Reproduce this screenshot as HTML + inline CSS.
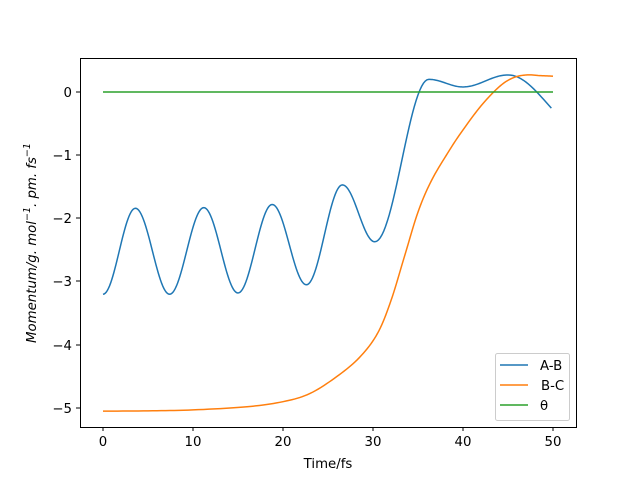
<!DOCTYPE html>
<html><head><meta charset="utf-8"><style>
body{margin:0;background:#fff}
svg{display:block;font-family:"DejaVu Sans","Liberation Sans",sans-serif}
</style></head><body>
<svg id="s" width="640" height="480" xmlns="http://www.w3.org/2000/svg">
<rect width="640" height="480" fill="#fff"/>
<g id="plot"></g>
<rect x="80.5" y="58.5" width="496" height="369" fill="none" stroke="#000" stroke-width="1"/>
<g font-size="13.3" fill="#000">
<g stroke="#000">
<line x1="103" y1="427" x2="103" y2="431"/><line x1="193" y1="427" x2="193" y2="431"/><line x1="283" y1="427" x2="283" y2="431"/><line x1="373" y1="427" x2="373" y2="431"/><line x1="463" y1="427" x2="463" y2="431"/><line x1="553" y1="427" x2="553" y2="431"/>
<line x1="76" y1="408" x2="80" y2="408"/><line x1="76" y1="345" x2="80" y2="345"/><line x1="76" y1="281" x2="80" y2="281"/><line x1="76" y1="218" x2="80" y2="218"/><line x1="76" y1="155" x2="80" y2="155"/><line x1="76" y1="92" x2="80" y2="92"/>
</g>
<g text-anchor="middle">
<text x="103" y="446">0</text><text x="193" y="446">10</text><text x="283" y="446">20</text><text x="373" y="446">30</text><text x="463" y="446">40</text><text x="553" y="446">50</text>
</g>
<g text-anchor="end">
<text x="72" y="413">−5</text><text x="72" y="350">−4</text><text x="72" y="286">−3</text><text x="72" y="223">−2</text><text x="72" y="160">−1</text><text x="72" y="97">0</text>
</g>
<text x="328" y="468" text-anchor="middle">Time/fs</text>
<text transform="translate(36,243) rotate(-90)" text-anchor="middle" font-style="italic">Momentum/g. mol<tspan dy="-6" font-size="9.5">−1</tspan><tspan dy="6">. pm. fs</tspan><tspan dy="-6" font-size="9.5">−1</tspan></text>
</g>
<rect x="495.5" y="353.5" width="74" height="67" rx="2" fill="#fff" fill-opacity="0.8" stroke="#ccc"/>
<g stroke-width="1.5">
<line x1="500" y1="365" x2="528" y2="365" stroke="#1f77b4"/>
<line x1="500" y1="385" x2="528" y2="385" stroke="#ff7f0e"/>
<line x1="500" y1="405" x2="528" y2="405" stroke="#2ca02c"/>
</g>
<g font-size="13.3"><text x="540" y="370">A-B</text><text x="541" y="390">B-C</text><text x="540" y="410">θ</text></g>
</svg>
<script>
function X(t){return 103+9*t}function Y(v){return 92-63.2*v}
var ab=[[0,-3.2],[3.6,-1.84],[7.4,-3.2],[11.2,-1.83],[15,-3.18],[18.8,-1.78],[22.6,-3.05],[26.6,-1.47],[30.2,-2.37],[36.2,0.2],[40,0.08],[45,0.27],[53.5,-0.6]];
var d="";
for(var i=0;i<ab.length-1;i++){var a=ab[i],b=ab[i+1];for(var k=0;k<=30;k++){var f=k/30,t=a[0]+(b[0]-a[0])*f;if(t>50)break;var v=a[1]+(b[1]-a[1])*(1-Math.cos(Math.PI*f))/2;d+=(d?"L":"M")+X(t).toFixed(2)+","+Y(v).toFixed(2);}}
var bc=[[0,-5.05],[5,-5.045],[10,-5.03],[16,-4.98],[20,-4.9],[23,-4.77],[26,-4.5],[28.5,-4.2],[30.5,-3.82],[32,-3.3],[33.5,-2.6],[35,-1.9],[36.5,-1.4],[38.5,-0.92],[40,-0.6],[42,-0.22],[44,0.08],[45.5,0.22],[47,0.27],[48.5,0.26],[50,0.25]];
var e="";
for(var i=0;i<bc.length-1;i++){var p0=bc[Math.max(i-1,0)],p1=bc[i],p2=bc[i+1],p3=bc[Math.min(i+2,bc.length-1)];for(var k=0;k<=10;k++){var s=k/10,s2=s*s,s3=s2*s;function cr(j){return 0.5*(2*p1[j]+(-p0[j]+p2[j])*s+(2*p0[j]-5*p1[j]+4*p2[j]-p3[j])*s2+(-p0[j]+3*p1[j]-3*p2[j]+p3[j])*s3)}e+=(e?"L":"M")+X(cr(0)).toFixed(2)+","+Y(cr(1)).toFixed(2);}}
document.getElementById("plot").innerHTML='<path d="'+d+'" fill="none" stroke="#1f77b4" stroke-width="1.5"/><path d="'+e+'" fill="none" stroke="#ff7f0e" stroke-width="1.5"/><line x1="103" y1="92" x2="553" y2="92" stroke="#2ca02c" stroke-width="1.5"/>';
</script>
</body></html>
